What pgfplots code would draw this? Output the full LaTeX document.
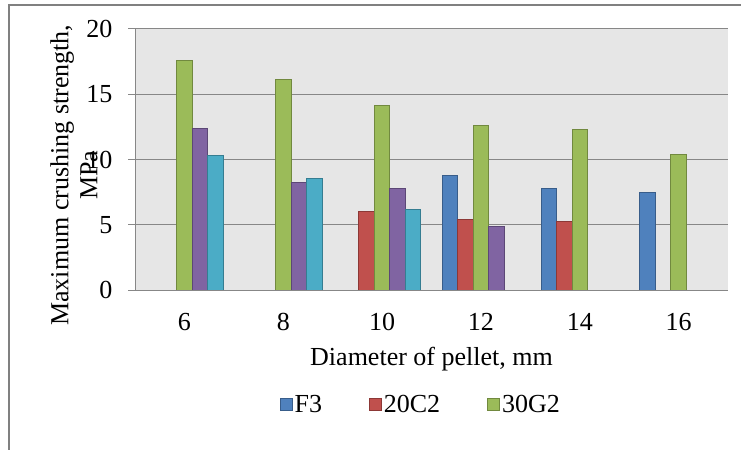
\documentclass[border=0pt]{standalone}
\usepackage{pgfplots}
\pgfplotsset{compat=1.18}
\usepackage{fontspec}
\setmainfont{Liberation Serif}
\definecolor{cF}{HTML}{4F81BD}\definecolor{cFd}{HTML}{385D8A}
\definecolor{cC}{HTML}{C0504D}\definecolor{cCd}{HTML}{8C3836}
\definecolor{cG}{HTML}{9BBB59}\definecolor{cGd}{HTML}{71893F}
\definecolor{cP}{HTML}{8064A2}\definecolor{cPd}{HTML}{5C4776}
\definecolor{cT}{HTML}{4BACC6}\definecolor{cTd}{HTML}{357D91}
\definecolor{bg}{RGB}{230,230,230}
\definecolor{gridc}{RGB}{135,135,135}
\begin{document}
\begin{tikzpicture}
\path[use as bounding box] (0,0) rectangle (741bp,450bp);
\draw[gray, line width=1.2bp] (9bp,0) -- (9bp,445bp) -- (741bp,445bp);
\begin{axis}[
  at={(135bp,160bp)}, anchor=south west,
  scale only axis, width=593bp, height=261bp,
  ybar=0pt, bar width=15.5bp,
  xmin=-0.5, xmax=5.5, ymin=0, ymax=20,
  xtick={0,1,2,3,4,5}, xticklabels={6,8,10,12,14,16},
  ytick={0,5,10,15,20},
  axis x line*=bottom, axis y line*=left,
  axis line style={-, gridc, line width=1bp},
  axis background/.style={fill=bg},
  ymajorgrids, grid style={gridc, line width=1bp},
  x tick style={draw=none},
  y tick style={gridc, line width=1bp},
  tick align=outside, major tick length=7bp,
  font=\fontsize{26bp}{29bp}\selectfont,
  /pgf/number format/assume math mode=true,
  xticklabel style={yshift=-13bp},
  yticklabel style={xshift=-12bp},
  xlabel={Diameter of pellet, mm},
  xlabel style={at={(axis description cs:0.5,-0.264)}, anchor=center},
  ylabel={Maximum crushing strength,\\MPa},
  ylabel style={at={(axis description cs:-0.103,0.44)}, anchor=center, align=center},
  legend columns=3,
  legend style={at={(axis description cs:0.482,-0.44)}, anchor=center, draw=none, fill=none,
    font=\fontsize{26bp}{29bp}\selectfont,
    /tikz/every even column/.append style={column sep=45bp}},
  legend image code/.code={\draw[#1, line width=0.8bp] (0bp,-6bp) rectangle (12bp,6bp);},
]
\addplot[fill=cF, draw=cFd, line width=1bp] coordinates {(3,8.75) (4,7.8) (5,7.47)};
\addplot[fill=cC, draw=cCd, line width=1bp] coordinates {(2,6.0) (3,5.37) (4,5.24)};
\addplot[fill=cG, draw=cGd, line width=1bp] coordinates {(0,17.6) (1,16.14) (2,14.14) (3,12.61) (4,12.28) (5,10.36)};
\addplot[fill=cP, draw=cPd, line width=1bp] coordinates {(0,12.4) (1,8.24) (2,7.8) (3,4.86)};
\addplot[fill=cT, draw=cTd, line width=1bp] coordinates {(0,10.33) (1,8.52) (2,6.19)};
\legend{F3,20C2,30G2}
\end{axis}
\end{tikzpicture}
\end{document}
